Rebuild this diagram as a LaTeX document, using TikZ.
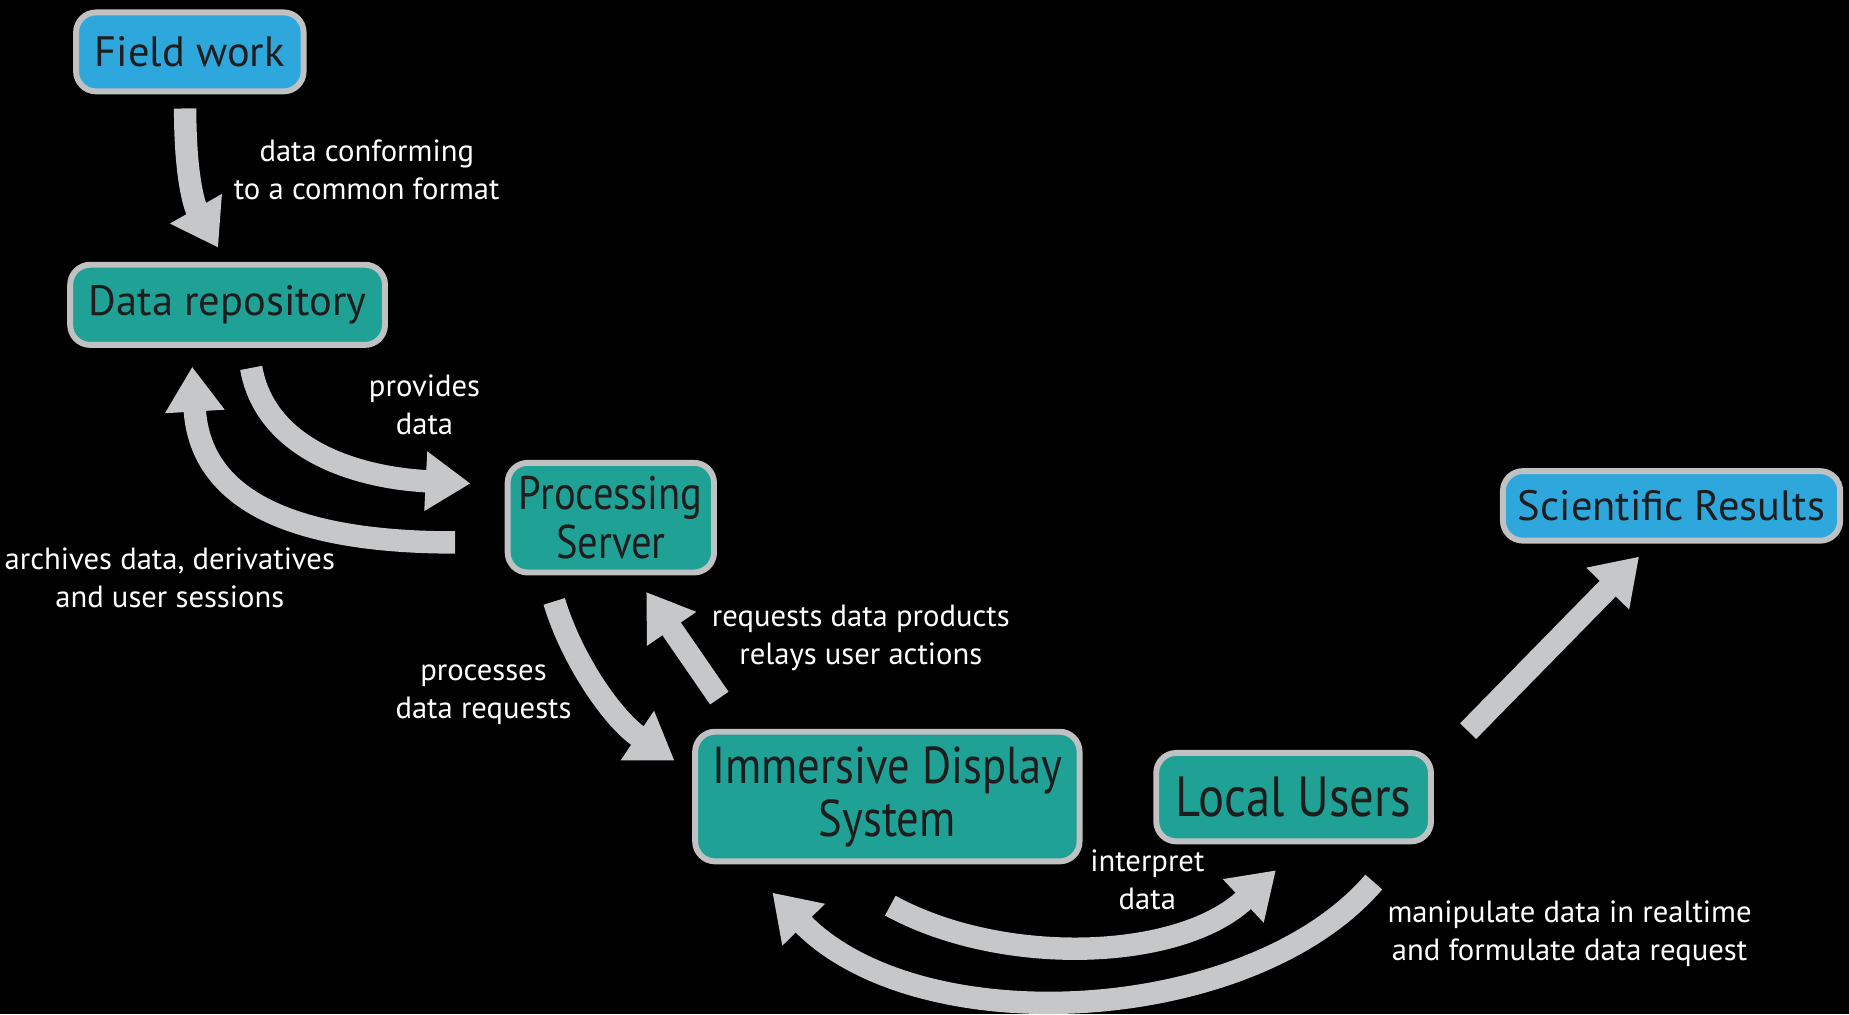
\documentclass[tikz,border=0pt]{standalone}
\usepackage{fontspec}
\setmainfont{PT Sans}
\newfontfamily\condfont{PT Sans}[FakeStretch=0.86]
\usetikzlibrary{arrows.meta}
\definecolor{arrowgray}{HTML}{C6C7C9}
\definecolor{bordergray}{HTML}{BFC1C3}
\definecolor{skyblue}{HTML}{2EA7DC}
\definecolor{tealbox}{HTML}{1FA295}
\definecolor{boxtext}{HTML}{1E1C1D}
\begin{document}
\begin{tikzpicture}[x=1pt,y=-1pt,
  box/.style={draw=bordergray, line width=5pt, rounded corners=17pt, text=boxtext,
    inner sep=0pt, align=center},
  bluebox/.style={box, fill=skyblue},
  tealbox/.style={box, fill=tealbox},
  lab/.style={text=white, align=center, inner sep=0pt,
    font=\fontsize{26}{32}\selectfont},
  flow/.style={draw=arrowgray, line width=19pt,
    -{Triangle[length=38pt,width=48pt]}}]
\fill[black] (0,0) rectangle (1568,860);
\useasboundingbox (0,0) rectangle (1568,860);

% boxes
\node[bluebox, minimum width=193pt, minimum height=67pt,
  font=\fontsize{36}{40}\selectfont] (fw) at (161,44) {Field work};
\node[tealbox, minimum width=267pt, minimum height=68pt,
  font=\fontsize{36}{40}\selectfont] (dr) at (193,258.5) {Data repository};
\node[tealbox, minimum width=175pt, minimum height=93pt,
  font=\condfont\fontsize{40}{41}\selectfont] (ps) at (518,439) {Processing\\Server};
\node[tealbox, minimum width=326pt, minimum height=110pt,
  font=\condfont\fontsize{44}{45}\selectfont] (ids) at (752.5,675.5) {Immersive Display\\System};
\node[tealbox, minimum width=233pt, minimum height=75pt,
  font=\condfont\fontsize{48}{48}\selectfont] (lu) at (1097,676) {Local Users};
\node[bluebox, minimum width=286pt, minimum height=59pt,
  font=\fontsize{36}{40}\selectfont] (sr) at (1417.5,429) {Scientific Results};

% connector end points
\coordinate (a1s) at (157,92);   \coordinate (a1e) at (185,210);
\coordinate (a2s) at (213,312);  \coordinate (a2e) at (399,410);
\coordinate (a3s) at (386,460);  \coordinate (a3e) at (163,311);
\coordinate (a4s) at (470,510);  \coordinate (a4e) at (572,645);
\coordinate (a5s) at (610,592);  \coordinate (a5e) at (548,502);
\coordinate (a6s) at (755,768);  \coordinate (a6e) at (1082,738);
\coordinate (a7s) at (1165,748); \coordinate (a7e) at (655,757);
\coordinate (a8s) at (1245,620); \coordinate (a8e) at (1390,472);

% connectors
\draw[flow] (a1s) .. controls (157,150) and (165,175) .. (a1e);
\draw[flow] (a2s) .. controls (225,380) and (300,405) .. (a2e);
\draw[flow] (a3s) .. controls (260,460) and (170,430) .. (a3e);
\draw[flow] (a4s) .. controls (485,560) and (520,610) .. (a4e);
\draw[flow] (a5s) -- (a5e);
\draw[flow] (a6s) .. controls (850,820) and (1000,815) .. (a6e);
\draw[flow] (a7s) .. controls (1060,870) and (780,885) .. (a7e);
\draw[flow] (a8s) -- (a8e);

% labels
\node[lab] (l1) at (311,144) {data conforming\\to a common format};
\node[lab] (l2) at (360,343) {provides\\data};
\node[lab] (l3) at (144,490) {archives data, derivatives\\and user sessions};
\node[lab] (l4) at (730,541) {requests data products\\relays user actions};
\node[lab] (l5) at (410,589) {processes\\data requests};
\node[lab] (l6) at (973,746) {interpret\\data};
\node[lab] (l7) at (1331,792) {manipulate data in realtime\\and formulate data request};
\end{tikzpicture}
\end{document}
